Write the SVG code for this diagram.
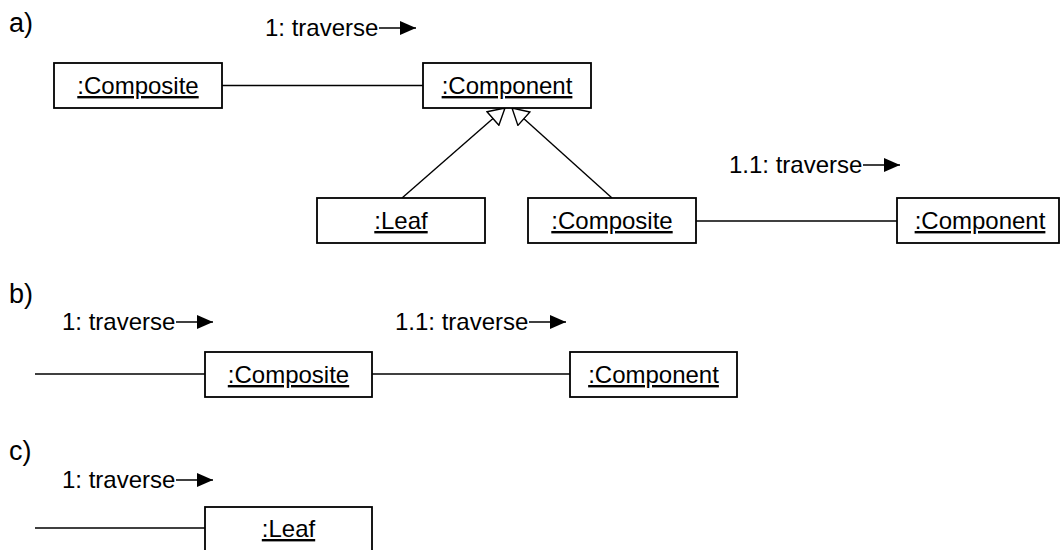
<svg xmlns="http://www.w3.org/2000/svg" width="1060" height="550" viewBox="0 0 1060 550">
<style>
  text { font-family: "Liberation Sans", Arial, sans-serif; fill: #000; }
  .sec { font-size: 27px; }
  .lbl { font-size: 24px; }
  .obj { font-size: 24px; text-anchor: middle; text-decoration: underline; }
  .box { fill: #fff; stroke: #000; stroke-width: 1.8; }
  .link { stroke: #000; stroke-width: 1.4; fill: none; }
  .msg { stroke: #000; stroke-width: 1.4; fill: none; marker-end: url(#msgHead); }
  .gen { stroke: #000; stroke-width: 1.4; fill: none; marker-end: url(#genHead); }
</style>
<defs>
  <marker id="msgHead" markerUnits="userSpaceOnUse" viewBox="0 0 16 14" refX="16" refY="7" markerWidth="16" markerHeight="14" orient="auto">
    <path d="M0,0 L16,7 L0,14 Z" fill="#000"/>
  </marker>
  <marker id="genHead" markerUnits="userSpaceOnUse" viewBox="-1 -1 18 20" refX="16" refY="9" markerWidth="18" markerHeight="20" orient="auto">
    <path d="M0,0 L16,9 L0,18 Z" fill="#fff" stroke="#000" stroke-width="1.4"/>
  </marker>
</defs>
<rect width="1060" height="550" fill="#fff"/>

<!-- section labels -->
<text class="sec" x="9" y="32">a)</text>
<text class="sec" x="9" y="303">b)</text>
<text class="sec" x="9" y="460">c)</text>

<!-- connectors -->
<g id="connectors">
  <line class="link" x1="222" y1="85.5" x2="423" y2="85.5"/>
  <line class="gen" x1="402" y1="198" x2="505" y2="108"/>
  <line class="gen" x1="612" y1="198" x2="512" y2="108"/>
  <line class="link" x1="696" y1="221" x2="897" y2="221"/>
  <line class="link" x1="35" y1="374" x2="205" y2="374"/>
  <line class="link" x1="372" y1="374" x2="570" y2="374"/>
  <line class="link" x1="35" y1="528" x2="205" y2="528"/>
</g>

<!-- message labels -->
<g id="messages">
  <text class="lbl" x="265" y="36">1: traverse</text>
  <line class="msg" x1="379" y1="28" x2="416" y2="28"/>
  <text class="lbl" x="729" y="173">1.1: traverse</text>
  <line class="msg" x1="863" y1="165" x2="900" y2="165"/>
  <text class="lbl" x="62" y="330">1: traverse</text>
  <line class="msg" x1="176" y1="322" x2="213" y2="322"/>
  <text class="lbl" x="395" y="330">1.1: traverse</text>
  <line class="msg" x1="529" y1="322" x2="566" y2="322"/>
  <text class="lbl" x="62" y="488">1: traverse</text>
  <line class="msg" x1="176" y1="480" x2="213" y2="480"/>
</g>

<g id="a_composite">
  <rect class="box" x="54" y="63" width="168" height="45"/>
  <text class="obj" x="138" y="94">:Composite</text>
</g>
<g id="a_component">
  <rect class="box" x="423" y="63" width="168" height="45"/>
  <text class="obj" x="507" y="94">:Component</text>
</g>
<g id="a_leaf">
  <rect class="box" x="317" y="198" width="168" height="45"/>
  <text class="obj" x="401" y="229">:Leaf</text>
</g>
<g id="a_composite2">
  <rect class="box" x="528" y="198" width="168" height="45"/>
  <text class="obj" x="612" y="229">:Composite</text>
</g>
<g id="a_component2">
  <rect class="box" x="897" y="198" width="162" height="45"/>
  <text class="obj" x="980" y="229">:Component</text>
</g>
<g id="b_composite">
  <rect class="box" x="205" y="352" width="167" height="45"/>
  <text class="obj" x="288.5" y="383">:Composite</text>
</g>
<g id="b_component">
  <rect class="box" x="570" y="352" width="167" height="45"/>
  <text class="obj" x="653.5" y="383">:Component</text>
</g>
<g id="c_leaf">
  <rect class="box" x="205" y="507" width="167" height="50"/>
  <text class="obj" x="288.5" y="537">:Leaf</text>
</g>
</svg>
